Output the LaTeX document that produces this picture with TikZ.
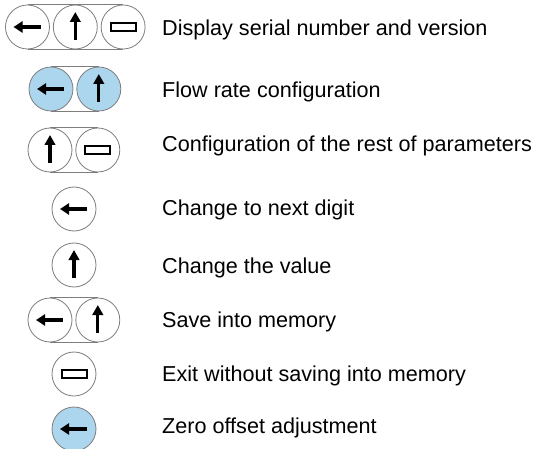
\documentclass[tikz,border=0pt]{standalone}
\usepackage{fontspec}
\setmainfont{Liberation Sans}
\definecolor{keyBlue}{RGB}{172,214,238}
\definecolor{keyGray}{RGB}{125,125,125}
\usepackage{tikz}
\usetikzlibrary{arrows.meta, positioning}
\usepackage{xcolor}

\begin{document}
\begin{tikzpicture}[
    x=1pt, y=-1pt,
    node distance=3pt,
    every node/.style={font=\fontsize{21.6}{26}\selectfont},
    keybtn/.style={draw=keyGray, circle, minimum size=44pt, inner sep=0pt,
                   line width=0.8pt},
    pressed/.style={fill=keyBlue},
    leftkey/.style={keybtn, path picture={
        \draw[black, line width=3.2pt, -{Triangle[length=9pt, width=11pt]}]
          ([xshift=13pt]path picture bounding box.center)
          -- ([xshift=-14pt]path picture bounding box.center);}},
    upkey/.style={keybtn, path picture={
        \draw[black, line width=3.2pt, -{Triangle[length=10pt, width=10.5pt]}]
          ([yshift=-13pt]path picture bounding box.center)
          -- ([yshift=15pt]path picture bounding box.center);}},
    exitkey/.style={keybtn, path picture={
        \draw[black, line width=2pt]
          ([shift={(-12.5pt,-4pt)}]path picture bounding box.center)
          rectangle ([shift={(12.5pt,4pt)}]path picture bounding box.center);}},
    pill/.style={draw=keyGray, line width=0.8pt},
    desc/.style={anchor=base west, inner sep=0pt}
  ]
    \useasboundingbox (0,0) rectangle (535,449);

    % display serial number
    \node[leftkey] (d1) at (27.5,27) {};
    \node[upkey, right=of d1] (d2) {};
    \node[exitkey, right=of d2] (d3) {};
    \draw[pill] (d1.north) -- (d3.north) (d1.south) -- (d3.south);
    \node[desc] (t1) at (162,36) {Display serial number and version};

    % flow rate
    \node[leftkey, pressed] (f1) at (51,89) {};
    \node[upkey, pressed, right=of f1] (f2) {};
    \draw[pill] (f1.north) -- (f2.north) (f1.south) -- (f2.south);
    \node[desc] (t2) at (162,98) {Flow rate configuration};

    % rest of parameters
    \node[upkey] (c1) at (50,150) {};
    \node[exitkey, right=of c1] (c2) {};
    \draw[pill] (c1.north) -- (c2.north) (c1.south) -- (c2.south);
    \node[desc] (t3) at (162,152) {Configuration of the rest of parameters};

    % single keys
    \node[leftkey] (n1) at (74,209) {};
    \node[desc] (t4) at (162,215) {Change to next digit};

    \node[upkey] (v1) at (74,265) {};
    \node[desc] (t5) at (162,273) {Change the value};

    % save
    \node[leftkey] (s1) at (50,320) {};
    \node[upkey, right=of s1] (s2) {};
    \draw[pill] (s1.north) -- (s2.north) (s1.south) -- (s2.south);
    \node[desc] (t6) at (162,327) {Save into memory};

    \node[exitkey] (x1) at (74,374) {};
    \node[desc] (t7) at (162,381) {Exit without saving into memory};

    \node[leftkey, pressed] (z1) at (74,429) {};
    \node[desc] (t8) at (162,433) {Zero offset adjustment};
  \end{tikzpicture}
\end{document}
